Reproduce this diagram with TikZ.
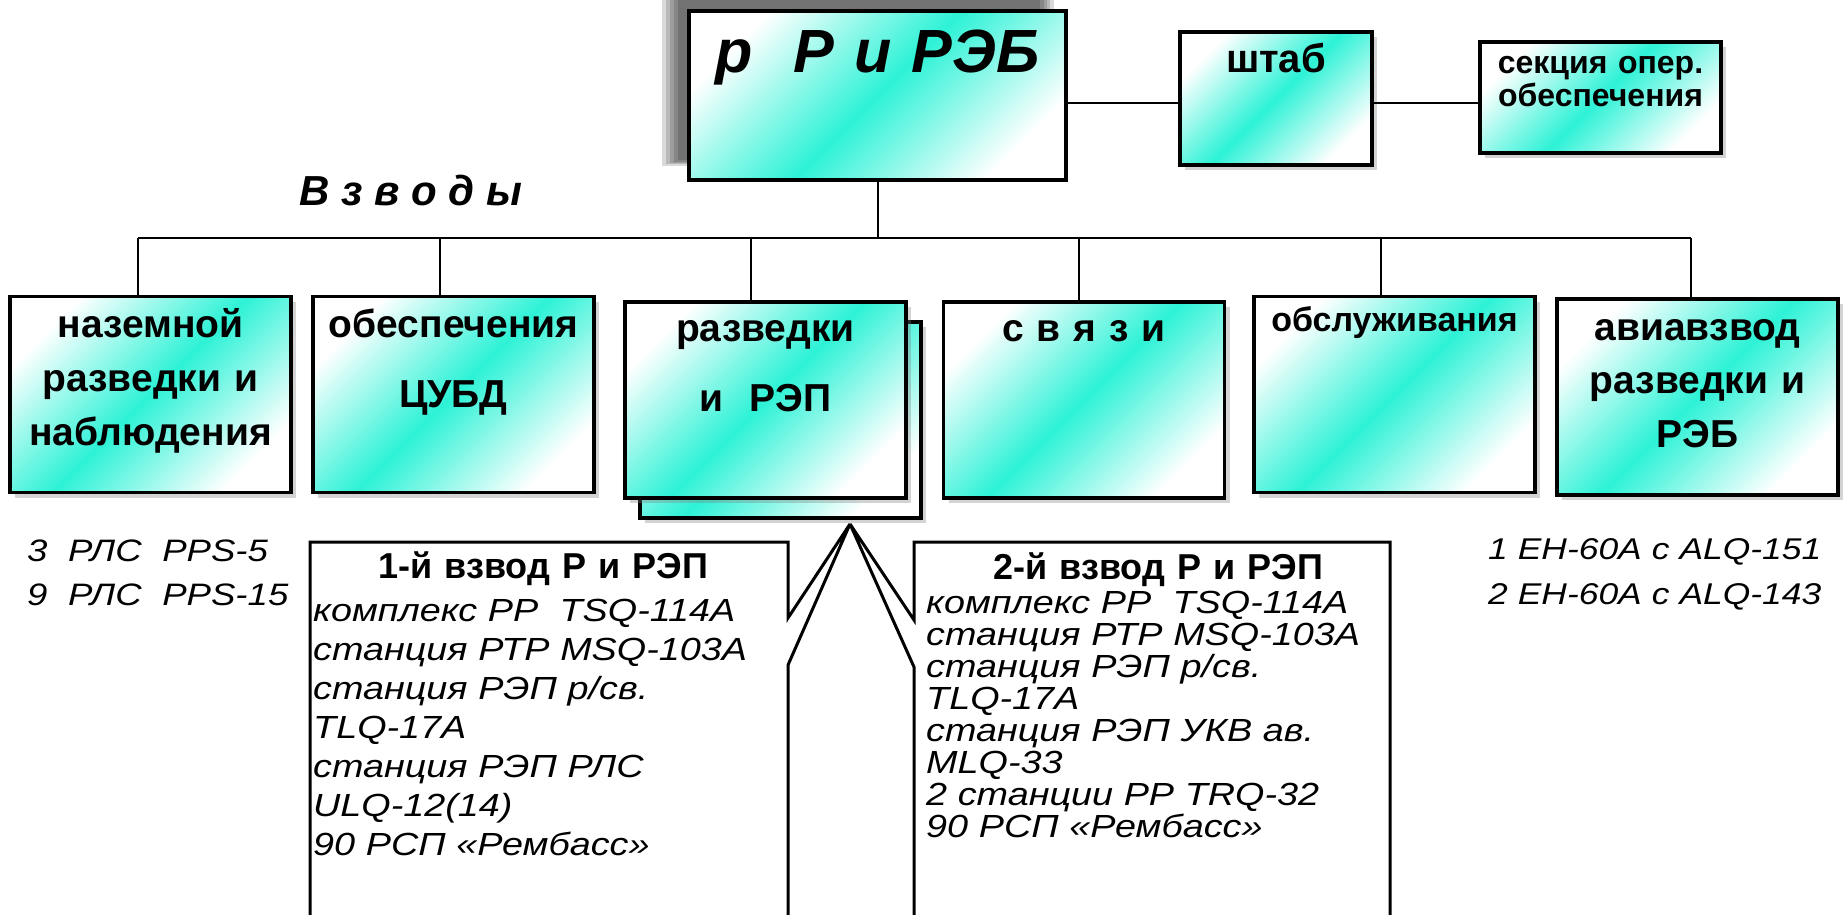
\documentclass[tikz,border=0pt]{standalone}
\usepackage{fontspec}
\setmainfont{Liberation Sans}
\newfontfamily\wideit{Liberation Sans}[FakeStretch=1.18]
\usetikzlibrary{shadows}

\definecolor{aqua}{RGB}{45,242,214}

\tikzset{
  unit/.style={draw, line width=3.5pt, inner sep=0pt,
    left color=white, right color=white, middle color=aqua, shading angle=45},
  shadowed/.style={drop shadow={shadow xshift=5pt, shadow yshift=-5pt, opacity=.35}},
  hqshadow/.style={
    drop shadow={shadow xshift=-19pt, shadow yshift=17pt, fill=black, opacity=.15, shadow scale=1.04},
    drop shadow={shadow xshift=-19pt, shadow yshift=17pt, fill=black, opacity=.15, shadow scale=1.02},
    drop shadow={shadow xshift=-19pt, shadow yshift=17pt, fill=black, opacity=.15, shadow scale=1},
    drop shadow={shadow xshift=-19pt, shadow yshift=17pt, fill=black, opacity=.15, shadow scale=.98},
    drop shadow={shadow xshift=-19pt, shadow yshift=17pt, fill=black, opacity=.15, shadow scale=.96}},
  platoon/.style={unit, shadowed, minimum width=281pt, minimum height=196pt},
  link/.style={line width=2pt},
  callout/.style={line width=3pt, line join=miter},
  boxtext/.style={font=\bfseries\fontsize{39}{54}\selectfont, anchor=base,
    inner sep=0pt, align=center, text width=#1},
  boxtext/.default=280pt,
  itlist/.style={font=\wideit\itshape\fontsize{32}{39}\selectfont, anchor=base west,
    inner sep=0pt, align=left, text width=470pt}
}

\begin{document}
\begin{tikzpicture}[x=1pt,y=-1pt]
\useasboundingbox (0,0) rectangle (1845,915);

% command level
\node[unit, hqshadow, line width=4pt, minimum width=377pt, minimum height=169pt] (hq) at (877.5,95.5) {};
\node[unit, shadowed, minimum width=192pt, minimum height=133pt] (shtab) at (1276,98.5) {};
\node[unit, shadowed, minimum width=241pt, minimum height=111pt] (ops) at (1600.5,97.5) {};

\node[boxtext=370pt, font=\bfseries\itshape\fontsize{61}{70}\selectfont] (hqt) at ([yshift=-64pt]hq.north) {р\ \ Р и РЭБ};
\node[boxtext=190pt, font=\bfseries\fontsize{40}{44}\selectfont] (shtabt) at ([yshift=-42pt]shtab.north) {штаб};
\node[boxtext=240pt, font=\bfseries\fontsize{32}{33}\selectfont] (opst) at ([yshift=-33pt]ops.north) {секция опер.\\обеспечения};

\coordinate (lvl) at (0,103);
\draw[link] (hq.east |- lvl) -- (shtab.west |- lvl);
\draw[link] (shtab.east |- lvl) -- (ops.west |- lvl);

\node[anchor=base west, inner sep=0pt, font=\bfseries\itshape\fontsize{42}{44}\selectfont] (vzt) at (299,205) {В з в о д ы};

% platoons
\node[platoon] (nz) at (150.5,394.5) {};
\node[platoon] (cubd) at (453.5,394.5) {};
\node[platoon] (repb) at (780.5,420) {};
\node[platoon] (rep) at (765.5,400) {};
\node[platoon] (svyaz) at (1084,400) {};
\node[platoon] (obsl) at (1394.5,394.5) {};
\node[platoon] (avia) at (1697.5,397) {};

\node[boxtext] (nzt) at ([yshift=-43pt]nz.north) {наземной\\разведки и\\наблюдения};
\node[boxtext, font=\bfseries\fontsize{39}{70}\selectfont] (cubdt) at ([yshift=-43pt]cubd.north) {обеспечения\\ЦУБД};
\node[boxtext, font=\bfseries\fontsize{39}{70}\selectfont] (rept) at ([yshift=-41pt]rep.north) {разведки\\и\ \ РЭП};
\node[boxtext] (svyazt) at ([yshift=-41pt]svyaz.north) {с в я з и};
\node[boxtext, font=\bfseries\fontsize{34}{40}\selectfont] (obslt) at ([yshift=-37pt]obsl.north) {обслуживания};
\node[boxtext, font=\bfseries\fontsize{39}{53.5}\selectfont] (aviat) at ([yshift=-43pt]avia.north) {авиавзвод\\разведки и\\РЭБ};

\coordinate (busl) at (138,238);
\coordinate (busr) at (1691,238);
\draw[link] (hq.south) -- (hq.south |- busl);
\draw[link] (busl) -- (busr);
\foreach \x/\n in {138/nz, 440/cubd, 751/rep, 1079/svyaz, 1381/obsl, 1691/avia}
  \draw[link] (\x,238) -- (\n.north -| \x,238);

% equipment
\node[itlist, font=\wideit\itshape\fontsize{31}{44}\selectfont, text width=280pt] (nzl) at (27,561) {3\ \ РЛС\ \ PPS-5\\9\ \ РЛС\ \ PPS-15};
\node[itlist, font=\wideit\itshape\fontsize{30}{45}\selectfont, text width=350pt] (avial) at (1488,559) {1 EH-60A с ALQ-151\\2 EH-60A с ALQ-143};

\coordinate (tip) at (850,524);
\draw[callout] (310,915) |- (788,542) -- (788,618) -- (tip) -- (788,665) -- (788,915);
\draw[callout] (914,915) -- (914,667) -- (tip) -- (914,620) |- (1390,542) -- (1390,915);

\node[boxtext=470pt, font=\bfseries\fontsize{36}{38}\selectfont] (p1t) at (543,578) {1-й взвод Р и РЭП};
\node[itlist] (p1l) at (313,621) {комплекс РР\ \ TSQ-114A\\станция РТР MSQ-103A\\станция РЭП р/св.\\TLQ-17A\\станция РЭП РЛС\\ULQ-12(14)\\90 РСП «Рембасс»};
\node[boxtext=470pt, font=\bfseries\fontsize{36}{38}\selectfont] (p2t) at (1158,579) {2-й взвод Р и РЭП};
\node[itlist, font=\wideit\itshape\fontsize{32}{32}\selectfont] (p2l) at (926,613) {комплекс РР\ \ TSQ-114A\\станция РТР MSQ-103A\\станция РЭП р/св.\\TLQ-17A\\станция РЭП УКВ ав.\\MLQ-33\\2 станции РР TRQ-32\\90 РСП «Рембасс»};

\end{tikzpicture}
\end{document}
